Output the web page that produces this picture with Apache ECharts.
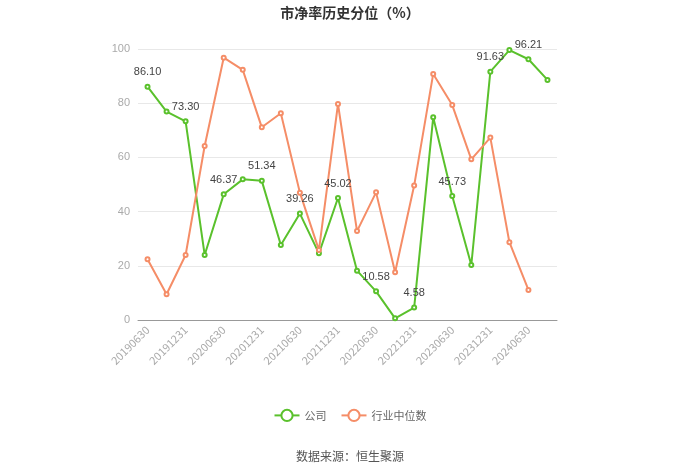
<!DOCTYPE html>
<html><head><meta charset="utf-8">
<script src="https://cdn.jsdelivr.net/npm/echarts@6/dist/echarts.min.js"></script>
<style>html,body{margin:0;padding:0;background:#fff}#c{width:700px;height:474px}</style>
</head><body><div id="c"></div>
<script>
const categories = ['20190630','20190930','20191231','20200331','20200630','20200930','20201231','20210331','20210630','20210930','20211231','20220331','20220630','20220930','20221231','20230331','20230630','20230930','20231231','20240331','20240630','20240930'];
const companyValues = [86.10,76.9,73.30,24.0,46.37,51.9,51.34,27.7,39.26,24.6,45.02,18.2,10.58,0.6,4.58,74.8,45.73,20.3,91.63,99.6,96.21,88.6];
const industryValues = [22.4,9.5,24.0,64.2,96.8,92.3,71.1,76.3,47.0,25.8,79.7,32.8,47.1,17.6,49.6,90.8,79.3,59.3,67.3,28.7,11.1,null];
const yTicks = [0,20,40,60,80,100];

const chart = echarts.init(document.getElementById('c'));
chart.setOption({
  animation:false,
  title:{text:'市净率历史分位（%）',left:'center',top:1,textStyle:{fontSize:14,fontWeight:'bold',color:'#333',fontFamily:'Noto Sans CJK SC'}},
  grid:{left:138,right:143,top:49,bottom:154},
  legend:{bottom:47,left:'center',itemWidth:25,itemHeight:14,itemGap:14,textStyle:{color:'#666',fontSize:11,fontFamily:'Noto Sans CJK SC'},data:['公司','行业中位数']},
  graphic:[{type:'text',left:'center',top:450,style:{text:'数据来源：恒生聚源',fill:'#555',fontSize:12,fontFamily:'Noto Sans CJK SC'}}],
  xAxis:{type:'category',data:categories,boundaryGap:true,
    axisLine:{lineStyle:{color:'#999'}},axisTick:{interval:1,alignWithLabel:true,lineStyle:{color:'#999'}},
    axisLabel:{interval:1,rotate:45,color:'#aaa',fontSize:11,fontFamily:'Noto Sans CJK SC'}},
  yAxis:{type:'value',min:yTicks[0],max:yTicks[yTicks.length-1],interval:20,
    axisLine:{show:false},axisTick:{show:false},
    axisLabel:{color:'#aaa',fontSize:11},splitLine:{lineStyle:{color:'#e8e8e8'}}},
  series:[
    {name:'公司',type:'line',data:companyValues,symbol:'emptyCircle',symbolSize:4,
      itemStyle:{color:'#5ac12c'},lineStyle:{width:2,color:'#5ac12c'},
      label:{show:true,position:'top',color:'#444',fontSize:11,distance:6,
        formatter:function(p){return p.dataIndex%2===0?p.value.toFixed(2):'';}}},
    {name:'行业中位数',type:'line',data:industryValues,symbol:'emptyCircle',symbolSize:4,
      itemStyle:{color:'#f58d67'},lineStyle:{width:2,color:'#f58d67'}}
  ]
});
</script></body></html>
